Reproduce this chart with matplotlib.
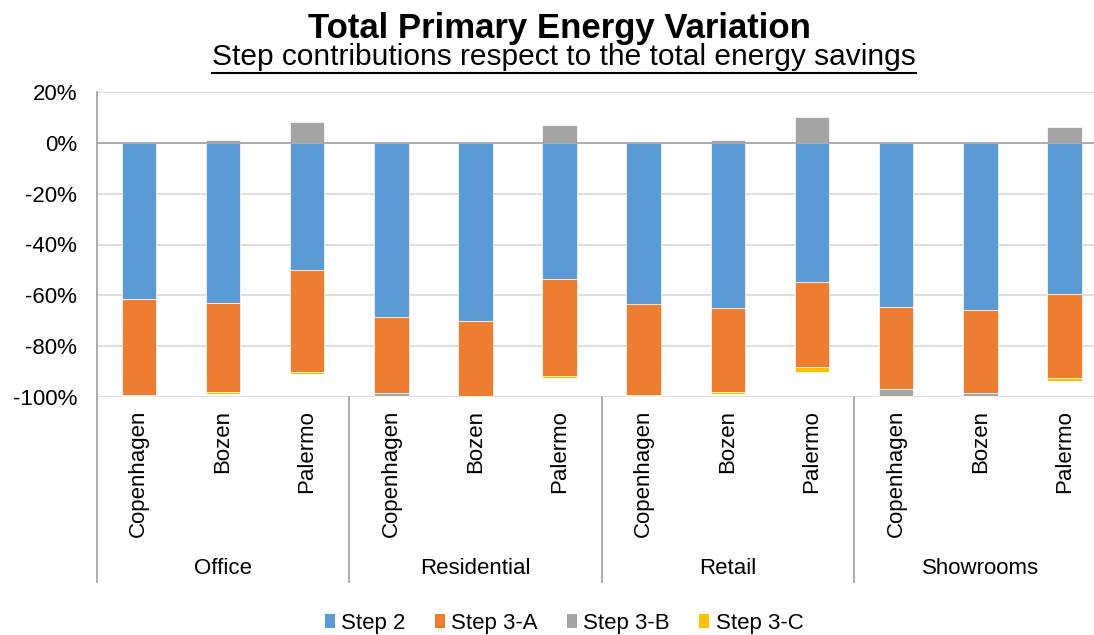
import matplotlib
matplotlib.use("Agg")
import matplotlib.pyplot as plt
import numpy as np
from matplotlib.transforms import blended_transform_factory
from matplotlib.lines import Line2D
from matplotlib.patches import Patch

plt.rcParams['font.family'] = ['Liberation Sans', 'DejaVu Sans']

groups = ["Office", "Residential", "Retail", "Showrooms"]
cities = ["Copenhagen", "Bozen", "Palermo"]
series_names = ["Step 2", "Step 3-A", "Step 3-B", "Step 3-C"]
colors = ["#5B9BD5", "#ED7D31", "#A5A5A5", "#FFC000"]

step2 = [-61.6, -63.1, -49.9, -68.7, -70.1, -53.6, -63.4, -65.0, -54.9, -64.6, -66.0, -59.5]
step3a = [-37.7, -35.2, -40.3, -30.0, -29.5, -38.1, -35.8, -33.3, -33.3, -32.4, -32.4, -33.1]
step3b = [-0.4, 1.2, 8.3, -0.9, 0.0, 7.3, 0.0, 1.2, 10.4, -2.9, -1.3, 6.3]
step3c = [-0.5, -0.55, -1.0, -0.5, -0.5, -1.0, -0.6, -0.55, -2.0, -0.4, -0.5, -1.1]

yticks = [20, 0, -20, -40, -60, -80, -100]

W, H = 1094, 635
fig = plt.figure(figsize=(W / 100, H / 100), dpi=100)
ax = fig.add_axes([96.7 / W, (H - 396.7) / H, 1009.9 / W, 304.4 / H])

n = len(groups) * len(cities)
x = np.arange(n)
pos_bottom = np.zeros(n)
neg_bottom = np.zeros(n)
for vals, col, name in zip([step2, step3a, step3b, step3c], colors, series_names):
    v = np.array(vals, dtype=float)
    bottoms = np.where(v >= 0, pos_bottom, neg_bottom)
    ax.bar(x, v, width=0.41, bottom=bottoms, color=col, edgecolor='white',
           linewidth=0.5, zorder=3, label=name)
    pos_bottom += np.where(v >= 0, v, 0)
    neg_bottom += np.where(v < 0, v, 0)

ax.set_xlim(-0.5, n - 0.5)
ax.set_ylim(-100, 20)
ax.set_yticks(yticks)
ax.set_yticklabels([f"{t}%" for t in yticks], fontsize=16, color='black')
ax.tick_params(axis='y', length=0, pad=14)
ax.set_xticks([])
for s in ax.spines.values():
    s.set_visible(False)

for t in yticks:
    if t == 0:
        continue
    ax.axhline(t, color='#d9d9d9', lw=1.2, zorder=1)
ax.axhline(0, color='#a6a6a6', lw=1.3, zorder=4)

trans = blended_transform_factory(ax.transData, ax.transAxes)
# vertical axis line and group separators extending through the category area
for xs in [-0.5, 2.5, 5.5, 8.5, 11.5]:
    top = 1.0 if xs == -0.5 else 0.0
    ax.add_line(Line2D([xs, xs], [top, -0.609], transform=trans, color='#a6a6a6',
                       lw=1.3, clip_on=False, zorder=5))

for i in range(n):
    ax.text(x[i], -0.044, cities[i % 3], transform=trans, rotation=90,
            ha='center', va='top', fontsize=16, color='black')
for g, name in enumerate(groups):
    ax.text(g * 3 + 1, -0.563, name, transform=trans, ha='center', va='center',
            fontsize=16, color='black')

fig.text(559 / W, (H - 38) / H, "Total Primary Energy Variation", ha='center',
         va='baseline', fontsize=25, fontweight='bold', color='black')
sub = fig.text(564 / W, (H - 65) / H, "Step contributions respect to the total energy savings",
               ha='center', va='baseline', fontsize=21.5, color='black')
fig.canvas.draw()
bb = sub.get_window_extent(renderer=fig.canvas.get_renderer())
uy = (H - 73) / H
fig.add_artist(Line2D([bb.x0 / W, bb.x1 / W], [uy, uy], transform=fig.transFigure,
                      color='black', lw=1.5))

handles = [Patch(facecolor=c, edgecolor='none') for c in colors]
fig.legend(handles, series_names, loc='center', bbox_to_anchor=(564 / W, (H - 623) / H),
           ncol=4, frameon=False, fontsize=16, handlelength=0.45, handleheight=0.6,
           handletextpad=0.3, columnspacing=1.3)

fig.savefig("out.png", dpi=100)
